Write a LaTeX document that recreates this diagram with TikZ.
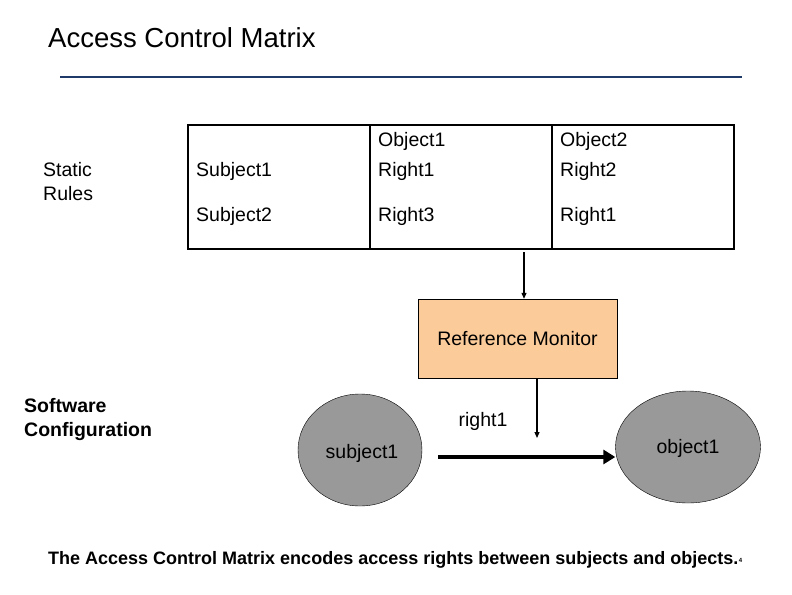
\documentclass[tikz,border=0pt]{standalone}
\usepackage{fontspec}
\setmainfont{Liberation Sans}
\usetikzlibrary{shapes.geometric,arrows.meta}
\definecolor{rm}{HTML}{FBCB9A}
\definecolor{el}{HTML}{999999}
\definecolor{tl}{HTML}{1F3A68}
\begin{document}
\begin{tikzpicture}[x=1pt,y=-1pt,
  txt/.style={font=\fontsize{19.5}{24}\selectfont,inner sep=0pt},
  bld/.style={font=\fontsize{19.5}{24}\selectfont\bfseries,inner sep=0pt,align=left},
  arr/.style={-{Triangle[length=6pt,width=5pt]},line width=1.2pt}]
\useasboundingbox (0,0) rectangle (792,594);
\node[font=\fontsize{27.5}{32}\selectfont,anchor=west,inner sep=0pt] (title) at (48,38) {Access Control Matrix};
\coordinate (l1) at (60,77); \coordinate (l2) at (742,77);
\draw[tl,line width=2.5pt] (l1) -- (l2);
\node[inner sep=0pt,align=left,font=\fontsize{19.5}{24}\selectfont,anchor=west] (sr) at (43,182) {Static\\Rules};
\draw[line width=1.5pt] (188,125) rectangle (734,249);
\draw[line width=1.5pt] (370,125) -- (370,249) (552,125) -- (552,249);
\node[txt,anchor=west] (o1) at (378,141) {Object1};
\node[txt,anchor=west] (o2) at (560,141) {Object2};
\node[txt,anchor=west] (s1) at (196,171) {Subject1};
\node[txt,anchor=west] (r1) at (378,171) {Right1};
\node[txt,anchor=west] (r2) at (560,171) {Right2};
\node[txt,anchor=west] (s2) at (196,216) {Subject2};
\node[txt,anchor=west] (r3) at (378,216) {Right3};
\node[txt,anchor=west] (r4) at (560,216) {Right1};
\coordinate (t1) at (524,252);
\node[draw,fill=rm,minimum width=199pt,minimum height=79pt,font=\fontsize{19.5}{24}\selectfont] (mon) at (517.5,338.5) {Reference Monitor};
\draw[arr] (t1) -- (mon.north -| t1);
\coordinate (m2) at (537,438);
\draw[arr] (mon.south -| m2) -- (m2);
\node[bld,anchor=west] (sc) at (24,419) {Software\\Configuration};
\node[ellipse,draw,fill=el,minimum width=124pt,minimum height=112pt] (sub) at (360,450) {};
\node[txt] at (362,453) {subject1};
\node[ellipse,draw,fill=el,minimum width=145pt,minimum height=112pt] (obj) at (688,447) {};
\node[txt] at (688,448) {object1};
\node[txt] (rt) at (483,421) {right1};
\draw[line width=4pt,-{Triangle[length=12pt,width=14pt]}] (438,457) -- (obj.west |- 0,457);
\node[bld,font=\fontsize{18}{22}\selectfont\bfseries,anchor=west] (cap) at (48,560) {The Access Control Matrix encodes access rights between subjects and objects.};
\node[font=\fontsize{6}{7}\selectfont\bfseries,inner sep=0pt,anchor=west] (pg) at (cap.east) {4};
\end{tikzpicture}
\end{document}
